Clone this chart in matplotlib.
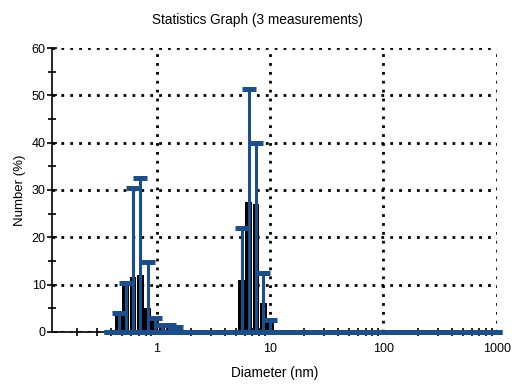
import numpy as np
import matplotlib
matplotlib.use("Agg")
import matplotlib.pyplot as plt
from matplotlib.ticker import LogLocator, MultipleLocator, NullFormatter, FixedLocator

plt.rcParams['font.family'] = ['Liberation Sans', 'DejaVu Sans']

# Size bins (nm)
sizes = [0.4, 0.4632, 0.5365, 0.6213, 0.7195, 0.8332, 0.9649, 1.117, 1.294, 1.499,
         1.736, 2.01, 2.328, 2.696, 3.122, 3.615, 4.187, 4.849, 5.615, 6.503,
         7.531, 8.721, 10.1, 11.7, 13.54, 15.69, 18.17, 21.04, 24.36, 28.21,
         32.67, 37.84, 43.82, 50.75, 58.77, 68.06, 78.82, 91.28, 105.7, 122.4,
         141.8, 164.2, 190.1, 220.2, 255.0, 295.3, 342.0, 396.1, 458.7, 531.2,
         615.1, 712.4, 825.0, 955.4]
# Mean number (%) per bin
mean_pct = [0, 4, 10, 11.5, 12, 5, 2.5, 1, 1.2, 1,
            0, 0, 0, 0, 0, 0, 0, 0, 11, 27.5,
            27, 6, 2.5, 0, 0, 0, 0, 0, 0, 0,
            0, 0, 0, 0, 0, 0, 0, 0, 0, 0,
            0, 0, 0, 0, 0, 0, 0, 0, 0, 0,
            0, 0, 0, 0]
# Standard deviation per bin
std_pct = [0, 0, 0.4, 19, 20.5, 9.8, 0.5, 0.5, 0.3, 0,
           0, 0, 0, 0, 0, 0, 0, 0, 11, 23.9,
           13, 6.5, 0, 0, 0, 0, 0, 0, 0, 0,
           0, 0, 0, 0, 0, 0, 0, 0, 0, 0,
           0, 0, 0, 0, 0, 0, 0, 0, 0, 0,
           0, 0, 0, 0]

title = "Statistics Graph (3 measurements)"
xlabel = "Diameter (nm)"
ylabel = "Number (%)"

blue = '#1b4f8c'

fig = plt.figure(figsize=(5.15, 3.85), dpi=100)
ax = fig.add_axes([0.101, 0.138, 0.864, 0.737])

s = np.array(sizes)
m = np.array(mean_pct)
sd = np.array(std_pct)
ratio = 1.158
left = s * ratio ** -0.46
right = s * ratio ** 0.46
ax.bar(left, m, width=right - left, align='edge', color='black', zorder=3)

ax.errorbar(s, m, yerr=[m, sd], fmt='none', ecolor=blue, elinewidth=2.2,
            capsize=4.8, capthick=3.6, zorder=4, clip_on=False)

ax.set_xscale('log')
ax.set_xlim(0.12, 1000)
ax.set_ylim(0, 60)

ax.xaxis.set_major_locator(FixedLocator([1, 10, 100, 1000]))
ax.set_xticklabels(['1', '10', '100', '1000'])
ax.xaxis.set_minor_locator(LogLocator(base=10, subs=np.arange(2, 10)))
ax.xaxis.set_minor_formatter(NullFormatter())
ax.yaxis.set_major_locator(MultipleLocator(10))
ax.yaxis.set_minor_locator(MultipleLocator(5))

ax.tick_params(axis='both', which='both', direction='inout', width=1.2, colors='black')
ax.tick_params(axis='both', which='major', length=7, labelsize=9)
ax.tick_params(axis='both', which='minor', length=6)
ax.tick_params(axis='x', which='major', length=0, pad=8)
ax.tick_params(axis='y', which='major', pad=1)

for sp in ['top', 'right']:
    ax.spines[sp].set_visible(False)
for sp in ['left', 'bottom']:
    ax.spines[sp].set_linewidth(1.2)

ax.grid(True, which='major', color='black', linestyle=(0, (1, 2.2)), linewidth=2.0, zorder=1)
ax.set_axisbelow(True)

fig.text(0.5, 0.948, title, fontsize=9.8, ha='center', va='center')
ax.set_xlabel(xlabel, fontsize=9.8, labelpad=8)
ax.set_ylabel(ylabel, fontsize=9.5, labelpad=4)

fig.savefig('out.png', dpi=100)
